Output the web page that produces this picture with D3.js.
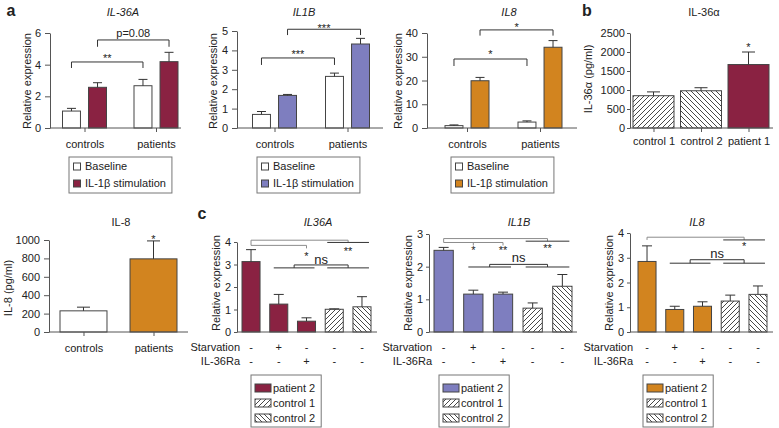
<!DOCTYPE html>
<html><head><meta charset="utf-8">
<script src="https://cdn.jsdelivr.net/npm/d3@7/dist/d3.min.js"></script>
<style>html,body{margin:0;padding:0;background:#fff;overflow:hidden}</style>
</head><body>
<script>
// ---------------- data ----------------
const groups = ["controls", "patients"];
const seriesNames = ["Baseline", "IL-1β stimulation"];
const il36aBaseline = [1.07, 2.67], il36aBaselineErr = [1.24, 3.07];
const il36aStim = [2.57, 4.19], il36aStimErr = [2.86, 4.78];
const il1bBaseline = [0.70, 2.66], il1bBaselineErr = [0.85, 2.83];
const il1bStim = [1.68, 4.33], il1bStimErr = [1.73, 4.62];
const il8Baseline = [1.0, 2.5], il8BaselineErr = [1.3, 3.0];
const il8Stim = [19.9, 34.0], il8StimErr = [21.3, 36.8];
const il36aTicks = [0, 2, 4, 6];
const il1bTicks = [0, 1, 2, 3, 4, 5];
const il8Ticks = [0, 10, 20, 30, 40];

const il36aSig = [
  {from: [0, 0], to: [1, 0], y: 4.17, leg: 3.79, label: "**", ly: 4.58},
  {from: [0, 1], to: [1, 1], y: 5.56, leg: 5.13, label: "p=0.08", ly: 6.03}
];
const il1bSig = [
  {from: [0, 0], to: [1, 0], y: 3.61, leg: 3.25, label: "***", ly: 3.92},
  {from: [0, 1], to: [1, 1], y: 5.09, leg: 4.79, label: "***", ly: 5.26}
];
const il8Sig = [
  {from: [0, 0], to: [1, 0], y: 29.05, leg: 26.1, label: "*", ly: 32},
  {from: [0, 1], to: [1, 1], y: 41.3, leg: 38.9, label: "*", ly: 43.4}
];

const samplesB = ["control 1", "control 2", "patient 1"];
const il36aProtein = [850, 980, 1670], il36aProteinErr = [950, 1060, 2000];
const proteinTicks = [0, 500, 1000, 1500, 2000, 2500];
const proteinStar = {index: 2, y: 2200, label: "*"};

const il8Protein = [230, 795], il8ProteinErr = [270, 990];
const il8ProteinTicks = [0, 200, 400, 600, 800, 1000];
const il8ProteinStar = {index: 1, y: 1033, label: "*"};

const conditions = ["1", "2", "3", "4", "5"];
const conditionSample = ["patient 2", "patient 2", "patient 2", "control 1", "control 2"];
const starvation = ["-", "+", "-", "-", "-"];
const il36raTreat = ["-", "-", "+", "-", "-"];
const cIl36a = [3.13, 1.24, 0.48, 1.01, 1.12], cIl36aErr = [3.66, 1.67, 0.63, 1.03, 1.57];
const cIl1b = [2.50, 1.16, 1.16, 0.73, 1.40], cIl1bErr = [2.59, 1.28, 1.22, 0.89, 1.76];
const cIl8 = [2.85, 0.91, 1.04, 1.25, 1.52], cIl8Err = [3.48, 1.04, 1.22, 1.49, 1.86];
const cIl36aTicks = [0, 1, 2, 3, 4], cIl1bTicks = [0, 1, 2, 3], cIl8Ticks = [0, 1, 2, 3, 4];
const cIl36aSig = {top: 4.08, group: 3.98, label: "**", ly: 3.72,
  sub: {y: 3.85, to: 2, ticks: [2], stars: [[2, "*", 3.5]]}, ns: {group: 2.85, top: 2.98, ly: 3.22}};
const cIl1bSig = {top: 2.86, group: 2.78, label: "**", ly: 2.63,
  sub: {y: 2.74, to: 2, ticks: [1, 2], stars: [[1, "*", 2.57], [2, "**", 2.57]]}, ns: {group: 1.99, top: 2.07, ly: 2.27}};
const cIl8Sig = {top: 3.83, group: 3.72, label: "*", ly: 3.55, sub: null,
  ns: {group: 2.78, top: 2.92, ly: 3.15}};

// ---------------- style ----------------
const MAROON = "#8a2242", PURPLE = "#7e7ebf", ORANGE = "#d2841f";
const AXC = "#555", TXT = "#222", OUT = "#444", GREY = "#8c8c8c";
const W = 779, H = 428;

const svg = d3.select("body").append("svg").attr("width", W).attr("height", H)
  .style("font-family", "'Liberation Sans', Arial, Helvetica, sans-serif");
svg.append("rect").attr("width", W).attr("height", H).attr("fill", "#fff");
const defs = svg.append("defs");
function hatch(id, d) {
  const p = defs.append("pattern").attr("id", id).attr("patternUnits", "userSpaceOnUse")
    .attr("width", 5).attr("height", 5);
  p.append("rect").attr("width", 5).attr("height", 5).attr("fill", "#fff");
  p.append("path").attr("d", d).attr("stroke", "#333").attr("stroke-width", 0.9).attr("fill", "none");
}
hatch("fwd", "M-1,1 L1,-1 M0,5 L5,0 M4,6 L6,4");
hatch("bwd", "M-1,4 L1,6 M0,0 L5,5 M4,-1 L6,1");
const sampleFill = {"control 1": "url(#fwd)", "control 2": "url(#bwd)"};

function txt(x, y, s, o = {}) {
  return svg.append("text").attr("x", x).attr("y", y).text(s)
    .attr("font-size", o.size || 11).attr("text-anchor", o.anchor || "middle")
    .attr("font-style", o.italic ? "italic" : null).attr("font-weight", o.bold ? "bold" : null)
    .attr("fill", TXT);
}
function ylabel(x, y, s) {
  svg.append("text").attr("transform", `translate(${x},${y}) rotate(-90)`)
    .attr("text-anchor", "middle").attr("dy", "0.35em").attr("font-size", 11).attr("fill", TXT).text(s);
}
function styleAxis(g) {
  g.attr("font-family", null).attr("font-size", null);
  g.selectAll(".domain, .tick line").attr("stroke", AXC);
  g.selectAll("text").attr("fill", TXT).attr("font-size", 11);
}
function yAxis(x, y, ticks, size, pad) {
  svg.append("g").attr("transform", `translate(${x},0)`)
    .call(d3.axisLeft(y).tickValues(ticks).tickFormat(d3.format("d"))
      .tickSize(size || 5).tickPadding(pad || 4).tickSizeOuter(0))
    .call(styleAxis);
}
function hline(x0, x1, y, color) {
  svg.append("line").attr("x1", x0).attr("x2", x1).attr("y1", y).attr("y2", y)
    .attr("stroke", color || AXC).attr("stroke-width", 1);
}
function xAxisTicks(scale, y0, x0, x1, pad) {
  svg.append("g").attr("transform", `translate(0,${y0})`)
    .call(d3.axisBottom(scale).tickSize(4).tickPadding(pad))
    .call(g => g.select(".domain").remove())
    .call(styleAxis);
  hline(x0, x1, y0);
}
function drawBars(rows) {
  const g = svg.append("g");
  g.selectAll("rect").data(rows).join("rect")
    .attr("x", d => d.x).attr("y", d => d.y1).attr("width", d => d.w).attr("height", d => d.y0 - d.y1)
    .attr("fill", d => d.fill).attr("stroke", OUT).attr("stroke-width", 1);
  g.selectAll("line.e").data(rows).join("line").attr("class", "e")
    .attr("x1", d => d.x + d.w / 2).attr("x2", d => d.x + d.w / 2)
    .attr("y1", d => d.y1).attr("y2", d => d.ye).attr("stroke", "#333");
  g.selectAll("line.c").data(rows).join("line").attr("class", "c")
    .attr("x1", d => d.x + d.w / 2 - d.cap / 2).attr("x2", d => d.x + d.w / 2 + d.cap / 2)
    .attr("y1", d => d.ye).attr("y2", d => d.ye).attr("stroke", "#333");
}
function sigText(x, ypx, label, size) {
  const star = /^\*+$/.test(label);
  txt(x, ypx + (star ? 6.3 : 4), label, {size: size || 11});
}

// ---------------- panel a ----------------
function panelA(o) {
  const y = d3.scaleLinear().domain([0, o.ticks[o.ticks.length - 1]]).range([128, o.top]);
  const gx = d3.scalePoint().domain(groups).range(o.centers);
  const sx = d3.scaleBand().domain([0, 1]).range([-22, 22]).paddingInner(0.31);
  const bx = (gi, si) => gx(groups[gi]) + sx(si);
  const rows = [];
  groups.forEach((g, i) => {
    rows.push({x: bx(i, 0), w: sx.bandwidth(), y0: y(0), y1: y(o.base[i]), ye: y(o.baseErr[i]), fill: "#fff", cap: 9});
    rows.push({x: bx(i, 1), w: sx.bandwidth(), y0: y(0), y1: y(o.stim[i]), ye: y(o.stimErr[i]), fill: o.color, cap: 9});
  });
  drawBars(rows);
  yAxis(o.ax, y, o.ticks);
  xAxisTicks(gx, 128, o.ax, o.axEnd, 8);
  txt(o.titleX, 16, o.title, {italic: true});
  ylabel(o.ylx, 81, "Relative expression");
  o.sig.forEach(s => {
    const xa = bx(s.from[0], s.from[1]) + sx.bandwidth() / 2;
    const xb = bx(s.to[0], s.to[1]) + sx.bandwidth() / 2;
    svg.append("path").attr("d", `M${xa},${y(s.leg)}V${y(s.y)}H${xb}V${y(s.leg)}`)
      .attr("fill", "none").attr("stroke", "#333");
    sigText((xa + xb) / 2, y(s.ly), s.label);
  });
  // legend
  const lg = svg.append("g");
  const fills = ["#fff", o.color];
  const t = seriesNames.map((n, i) => {
    lg.append("rect").attr("x", o.legX + 4.5).attr("y", 163 + i * 17).attr("width", 7).attr("height", 7)
      .attr("fill", fills[i]).attr("stroke", OUT);
    return lg.append("text").attr("x", o.legX + 16).attr("y", 170 + i * 17).attr("font-size", 11)
      .attr("fill", TXT).text(n);
  });
  const tw = d3.max(t, e => e.node().getComputedTextLength());
  lg.insert("rect", ":first-child").attr("x", o.legX).attr("y", 157).attr("width", 16 + tw + 6).attr("height", 36)
    .attr("fill", "#fff").attr("stroke", "#777");
}

panelA({title: "IL-36A", titleX: 123, ticks: il36aTicks, top: 33, centers: [84.5, 156], ax: 50, axEnd: 181,
  base: il36aBaseline, baseErr: il36aBaselineErr, stim: il36aStim, stimErr: il36aStimErr,
  color: MAROON, ylx: 27, sig: il36aSig, legX: 69});
panelA({title: "IL1B", titleX: 304, ticks: il1bTicks, top: 31, centers: [274.5, 347.5], ax: 237, axEnd: 383,
  base: il1bBaseline, baseErr: il1bBaselineErr, stim: il1bStim, stimErr: il1bStimErr,
  color: PURPLE, ylx: 213.5, sig: il1bSig, legX: 257});
panelA({title: "IL8", titleX: 509, ticks: il8Ticks, top: 33, centers: [467, 540], ax: 427, axEnd: 577,
  base: il8Baseline, baseErr: il8BaselineErr, stim: il8Stim, stimErr: il8StimErr,
  color: ORANGE, ylx: 398.5, sig: il8Sig, legX: 451});
txt(11, 16, "a", {size: 16, bold: true});

// ---------------- panel b ----------------
(function () {
  const y = d3.scaleLinear().domain([0, 2500]).range([128, 33]);
  const x = d3.scaleBand().domain(samplesB).range([633, 769]).paddingInner(0.137);
  const fills = samplesB.map(s => sampleFill[s] || MAROON);
  drawBars(samplesB.map((s, i) => ({x: x(s), w: x.bandwidth(), y0: y(0), y1: y(il36aProtein[i]),
    ye: y(il36aProteinErr[i]), fill: fills[i], cap: 13})));
  yAxis(630, y, proteinTicks, 3, 2);
  const xc = d3.scalePoint().domain(samplesB).range([x(samplesB[0]) + x.bandwidth() / 2, x(samplesB[2]) + x.bandwidth() / 2]);
  xAxisTicks(xc, 128, 630, 773, 5);
  txt(704, 16, "IL-36α");
  ylabel(588, 79, "IL-36α (pg/ml)");
  sigText(x(samplesB[proteinStar.index]) + x.bandwidth() / 2, y(proteinStar.y), proteinStar.label);
  txt(587, 16, "b", {size: 16, bold: true});
})();

// ---------------- IL-8 protein ----------------
(function () {
  const y = d3.scaleLinear().domain([0, 1000]).range([332, 240]);
  const x = d3.scaleBand().domain(groups).range([60, 177]).paddingInner(0.329);
  const fills = ["#fff", ORANGE];
  drawBars(groups.map((g, i) => ({x: x(g), w: x.bandwidth(), y0: y(0), y1: y(il8Protein[i]),
    ye: y(il8ProteinErr[i]), fill: fills[i], cap: 13})));
  yAxis(49, y, il8ProteinTicks);
  const xc = d3.scalePoint().domain(groups).range([x(groups[0]) + x.bandwidth() / 2, x(groups[1]) + x.bandwidth() / 2]);
  xAxisTicks(xc, 332, 49, 188, 8);
  txt(121, 226, "IL-8");
  ylabel(8, 288, "IL-8 (pg/ml)");
  sigText(x(groups[il8ProteinStar.index]) + x.bandwidth() / 2, y(il8ProteinStar.y), il8ProteinStar.label);
})();

// ---------------- panel c ----------------
function panelC(o) {
  const y = d3.scaleLinear().domain([0, o.ticks[o.ticks.length - 1]]).range([332, o.top]);
  const x = d3.scaleBand().domain(conditions).range(o.range).paddingInner(0.35);
  const c = i => x(conditions[i]) + x.bandwidth() / 2;
  drawBars(conditions.map((k, i) => ({x: x(k), w: x.bandwidth(), y0: y(0), y1: y(o.vals[i]), ye: y(o.errs[i]),
    fill: sampleFill[conditionSample[i]] || o.color, cap: 10})));
  yAxis(o.ax, y, o.ticks, 3, 3);
  hline(o.ax, o.axEnd, 332);
  txt(o.titleX, 226, o.title, {italic: true});
  ylabel(o.ylx, 283, "Relative expression");
  // treatment rows
  txt(o.ax + 3, 351, "Starvation", {anchor: "end"});
  txt(o.ax + 3, 365, "IL-36Ra", {anchor: "end"});
  conditions.forEach((k, i) => {
    txt(c(i), 351, starvation[i]);
    txt(c(i), 365, il36raTreat[i]);
  });
  // significance
  const s = o.sig;
  const g2 = [c(3) - 7, c(4) + 7];
  const m34 = (g2[0] + g2[1]) / 2;
  svg.append("path").attr("d", `M${c(0)},${y(s.sub ? s.sub.y : s.group)}V${y(s.top)}H${m34}V${y(s.group)}`)
    .attr("fill", "none").attr("stroke", GREY);
  hline(g2[0], g2[1], y(s.group), "#333");
  sigText(m34, y(s.ly), s.label);
  if (s.sub) {
    let d = `M${c(0)},${y(s.sub.y)}H${c(s.sub.to)}`;
    s.sub.ticks.forEach(i => { d += `M${c(i)},${y(s.sub.y)}V${y(s.sub.y) + 3}`; });
    svg.append("path").attr("d", d).attr("fill", "none").attr("stroke", GREY);
    s.sub.stars.forEach(st => sigText(c(st[0]), y(st[2]), st[1]));
  }
  const g1 = [c(1) - 5, c(2) + 8];
  hline(g1[0], g1[1], y(s.ns.group), "#333");
  hline(g2[0], g2[1], y(s.ns.group), "#333");
  const m1 = (g1[0] + g1[1]) / 2;
  svg.append("path").attr("d", `M${m1},${y(s.ns.group)}V${y(s.ns.top)}H${m34}V${y(s.ns.group)}`)
    .attr("fill", "none").attr("stroke", "#333");
  sigText((m1 + m34) / 2, y(s.ns.ly), "ns", 13);
  // legend
  const lg = svg.append("g");
  const names = ["patient 2", "control 1", "control 2"];
  const t = names.map((n, i) => {
    lg.append("rect").attr("x", o.legX + 4).attr("y", 384 + i * 15).attr("width", 16).attr("height", 8)
      .attr("fill", sampleFill[n] || o.color).attr("stroke", OUT);
    return lg.append("text").attr("x", o.legX + 22).attr("y", 392 + i * 15).attr("font-size", 11)
      .attr("fill", TXT).text(n);
  });
  const tw = d3.max(t, e => e.node().getComputedTextLength());
  lg.insert("rect", ":first-child").attr("x", o.legX).attr("y", 375).attr("width", 22 + tw + 6).attr("height", 52)
    .attr("fill", "#fff").attr("stroke", "#777");
}
panelC({title: "IL36A", titleX: 318, ticks: cIl36aTicks, top: 242, range: [242, 371], ax: 237, axEnd: 377,
  vals: cIl36a, errs: cIl36aErr, color: MAROON, ylx: 216, sig: cIl36aSig, legX: 251});
panelC({title: "IL1B", titleX: 519, ticks: cIl1bTicks, top: 234, range: [434, 572], ax: 429, axEnd: 577,
  vals: cIl1b, errs: cIl1bErr, color: PURPLE, ylx: 408, sig: cIl1bSig, legX: 439});
panelC({title: "IL8", titleX: 697, ticks: cIl8Ticks, top: 233, range: [638, 767], ax: 630, axEnd: 773,
  vals: cIl8, errs: cIl8Err, color: ORANGE, ylx: 609, sig: cIl8Sig, legX: 643});
txt(202, 219, "c", {size: 16, bold: true});
</script>
</body></html>
